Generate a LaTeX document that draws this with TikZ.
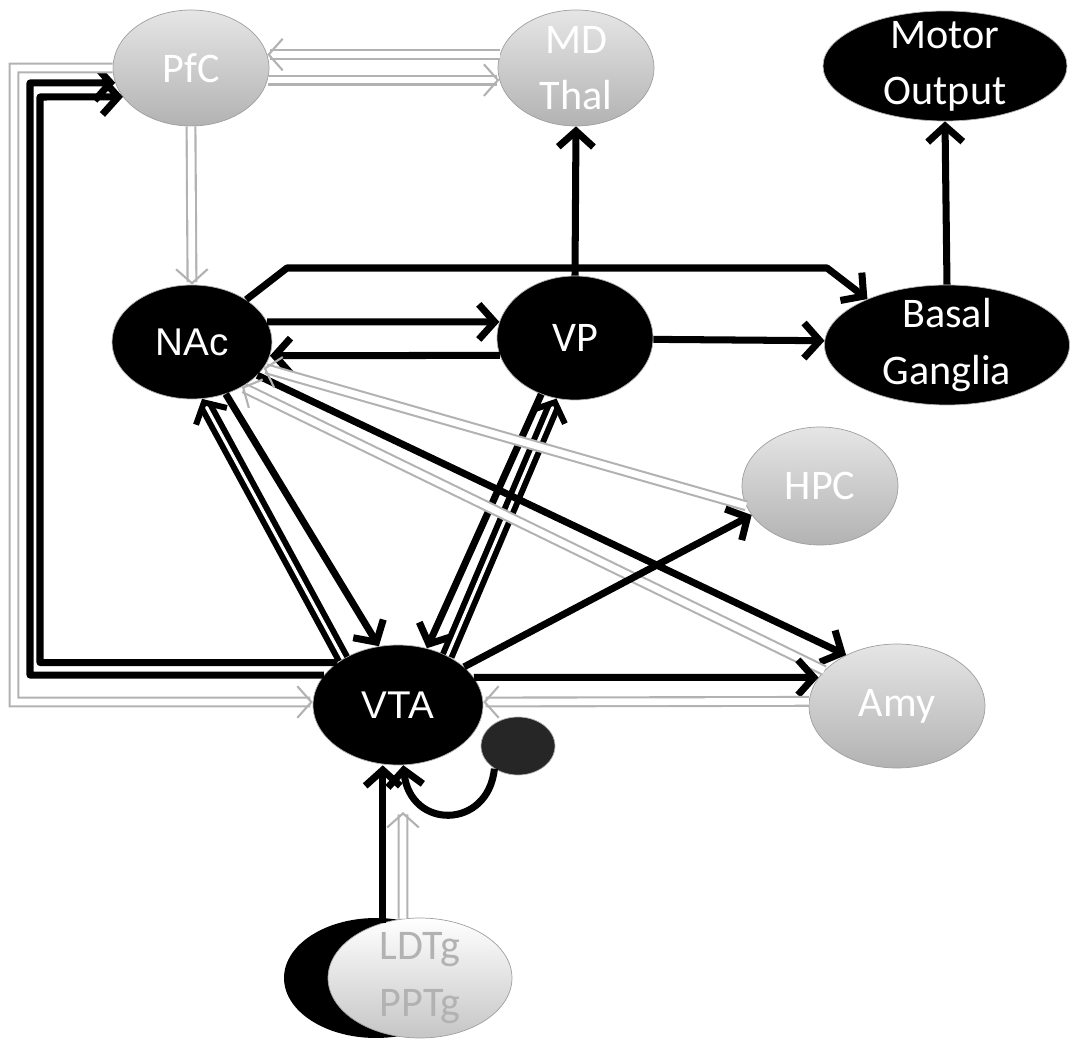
\documentclass[tikz,border=0pt]{standalone}
\usepackage{fontspec}
\setmainfont{Carlito}
\newfontfamily\arialfont{Liberation Sans}
\usetikzlibrary{arrows.meta,shapes.geometric}

\begin{document}
\begin{tikzpicture}[x=0.02cm, y=-0.02cm]
    % Define styles
    \tikzset{
        region/.style={ellipse, inner sep=-8pt, align=center, font=\fontsize{24}{32}\selectfont},
        darkregion/.style={region, fill=black, draw=gray!60, text=white},
        lightregion/.style={region, top color=gray!20, bottom color=gray!60, draw=gray!75, text=white},
        arrow/.style={-{Straight Barb[length=9pt,width=20pt]}, line width=4pt, line join=round},
        dualarrow/.style={arrow, double=white, double distance=1.8pt, line width=3.4pt},
        lightarrow/.style={-{Straight Barb[length=8pt,width=18pt]}, draw=gray!60, line width=1.2pt, double=white, double distance=3.8pt}
    }
    \useasboundingbox (0,0) rectangle (1073,1040);

    % Nodes
    \node[lightregion, minimum width=3.12cm, minimum height=2.32cm] (pfc) at (191,68) {PfC};
    \node[lightregion, minimum width=3.12cm, minimum height=2.32cm] (md_thal) at (576,68) {MD\\Thal};
    \node[darkregion, minimum width=4.88cm, minimum height=2.2cm] (motor_output) at (945,66) {Motor\\Output};
    \node[darkregion, minimum width=3.2cm, minimum height=2.28cm, font=\arialfont\fontsize{22}{28}\selectfont] (nac) at (192,342) {NAc};
    \node[darkregion, minimum width=3.12cm, minimum height=2.48cm] (vp) at (575,338) {VP};
    \node[darkregion, minimum width=4.9cm, minimum height=2.4cm] (basal_ganglia) at (947,345) {Basal\\Ganglia};
    \node[lightregion, minimum width=3.12cm, minimum height=2.36cm] (hpc) at (820,486) {HPC};
    \node[lightregion, minimum width=3.52cm, minimum height=2.48cm] (amy) at (897,706) {Amy};
    \node[darkregion, minimum width=3.4cm, minimum height=2.4cm, font=\arialfont\fontsize{22}{28}\selectfont] (vta) at (398,705) {VTA};
    \node[ellipse, fill=black!85, draw=gray!60, minimum width=1.48cm, minimum height=1.16cm] (gaba_cell) at (518,746) {};
    \node[ellipse, fill=black, minimum width=3.68cm, minimum height=2.4cm] (ldtg_shadow) at (376,978) {};
    \node[region, top color=white, bottom color=gray!45, draw=gray!75, text=white, minimum width=3.68cm, minimum height=2.4cm] (ldtg) at (420,978) {\textcolor{gray!60}{LDTg}\\\textcolor{gray!60}{PPTg}};
    \coordinate (ldtg_tip) at (403,812);

    % Arrows
    \draw[lightarrow] (md_thal.170) -- (pfc.10);
    \draw[lightarrow] (pfc.-9) -- (md_thal.189);
    \draw[lightarrow] (pfc.south) -- (nac.north);
    \draw[arrow] (vp.north) -- (md_thal.south);
    \draw[arrow] (basal_ganglia.north) -- (motor_output.south);
    \draw[arrow] (nac.38) -- (287,268) -- (827,268) -- (basal_ganglia.150);
    \draw[arrow] (nac.15) -- (vp.168);
    \draw[arrow] (vp.193) -- (nac.-10);
    \draw[arrow] (vp.-1) -- (basal_ganglia.178);
    \draw[dualarrow] (vta.140) -- (nac.-80);
    \draw[arrow] (nac.-57) -- (vta.108);
    \draw[arrow] (vp.239) -- (vta.63);
    \draw[dualarrow] (vta.45) -- (vp.253);
    \draw[arrow] (nac.-27) -- (amy.135);
    \draw[lightarrow] (hpc.195) -- (nac.-20);
    \draw[lightarrow] (amy.154) -- (nac.-42);
    \draw[arrow] (vta.30) -- (hpc.203);
    \draw[arrow] (vta.20) -- (amy.160);
    \draw[lightarrow] (amy.177) -- (vta.2);
    \draw[arrow] (gaba_cell.224) .. controls (488,830) and (410,830) .. (vta.-85);
    \draw[arrow] (ldtg.124) -- (ldtg.124 |- vta.south);
    \draw[lightarrow] (ldtg.106) -- (ldtg_tip);
    \draw[arrow] (vta.158) -| (30,83) -- (pfc.191);
    \draw[arrow] (vta.145) -| (40,97) -- (pfc.203);
    \draw[lightarrow] (pfc.west) -| (14,702) -- (vta.178);
\end{tikzpicture}
\end{document}
